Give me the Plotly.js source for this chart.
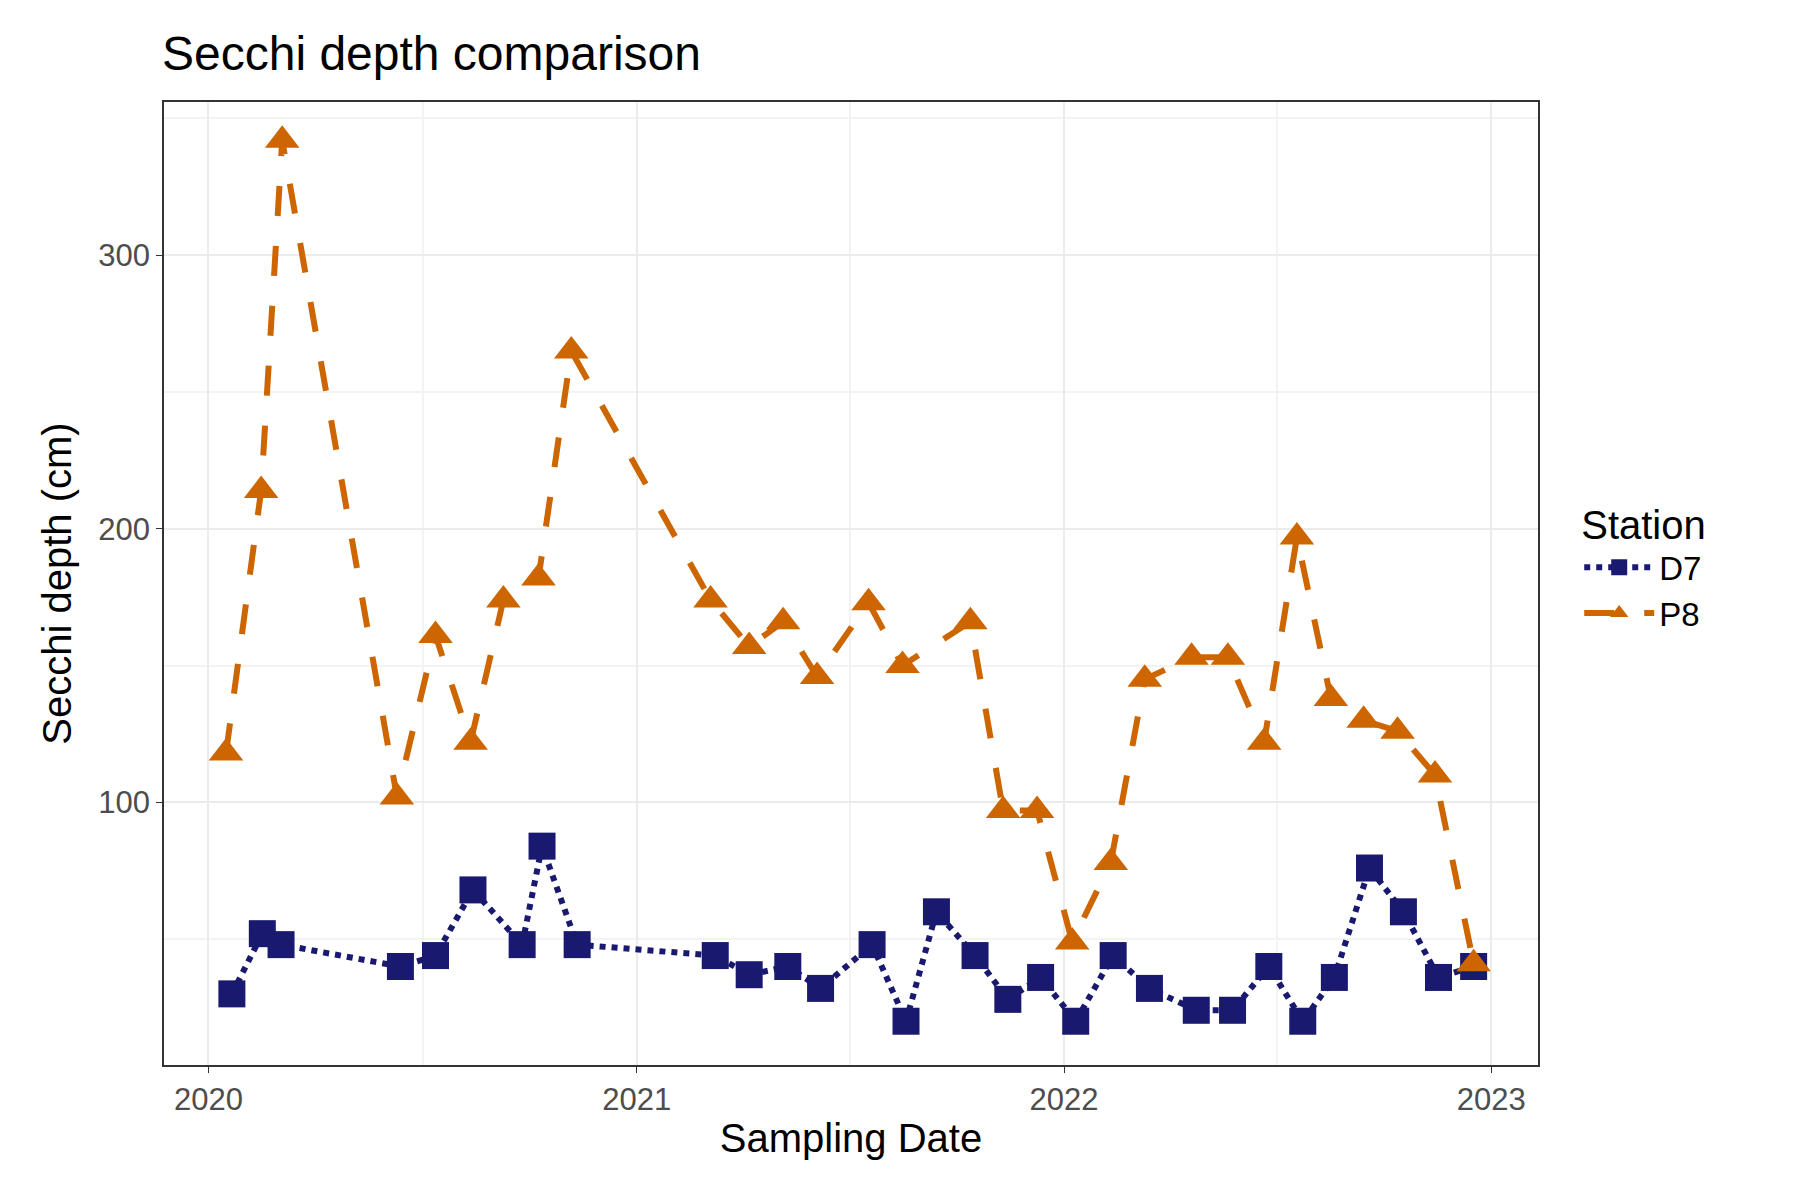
<!DOCTYPE html>
<html>
<head>
<script src="https://cdn.plot.ly/plotly-3.0.1.min.js"></script>
<style>body{margin:0;background:#fff}</style>
</head>
<body>
<div id="plot" style="width:1800px;height:1200px"></div>
<script>
const p8Dates = ['2020-01-16','2020-02-15','2020-03-04','2020-06-10','2020-07-13','2020-08-12','2020-09-09','2020-10-09','2020-11-06',
  '2021-03-05','2021-04-07','2021-05-06','2021-06-04','2021-07-18','2021-08-16','2021-10-13','2021-11-10','2021-12-09',
  '2022-01-08','2022-02-10','2022-03-11','2022-04-20','2022-05-21','2022-06-21','2022-07-19','2022-08-17','2022-09-14','2022-10-13','2022-11-14','2022-12-17'];
const p8Depth = [118, 214, 342, 102, 161, 122, 174, 182, 265,
  174, 157, 166, 146, 173, 150, 166, 97, 97,
  49, 78, 145, 153, 153, 122, 197, 138, 130, 126, 110, 41];

const d7Dates = ['2020-01-21','2020-02-16','2020-03-03','2020-06-13','2020-07-13','2020-08-14','2020-09-25','2020-10-12','2020-11-11',
  '2021-03-09','2021-04-07','2021-05-10','2021-06-07','2021-07-21','2021-08-19','2021-09-14','2021-10-17','2021-11-14','2021-12-12',
  '2022-01-11','2022-02-12','2022-03-15','2022-04-24','2022-05-25','2022-06-25','2022-07-24','2022-08-20','2022-09-19','2022-10-18','2022-11-17','2022-12-17'];
const d7Depth = [30, 52, 48, 40, 44, 68, 48, 84, 48,
  44, 37, 40, 32, 48, 20, 60, 44, 28, 36,
  20, 44, 32, 24, 24, 40, 20, 36, 76, 60, 36, 40];

const data = [
  {x: d7Dates, y: d7Depth, name: 'D7', type: 'scatter', mode: 'lines+markers',
   line: {color: '#191970', width: 6, dash: 'dot'},
   marker: {symbol: 'square', size: 27, color: '#191970'}},
  {x: p8Dates, y: p8Depth, name: 'P8', type: 'scatter', mode: 'lines+markers',
   line: {color: '#CD6600', width: 6, dash: 'longdash'},
   marker: {symbol: 'triangle-up', size: 30, color: '#CD6600'}}
];

const axisCommon = {
  showline: true, mirror: true, linecolor: '#333', linewidth: 1.5,
  gridcolor: '#ebebeb', gridwidth: 2, zeroline: false,
  ticks: 'outside', ticklen: 6, tickcolor: '#333',
  tickfont: {size: 31, color: '#4d4d4d'}
};

const layout = {
  font: {family: 'Liberation Sans, Arial, sans-serif', color: '#000'},
  title: {text: 'Secchi depth comparison', font: {size: 48}, x: 0.09, xanchor: 'left', y: 0.97},
  margin: {l: 164, r: 262, t: 102, b: 135},
  paper_bgcolor: '#fff', plot_bgcolor: '#fff',
  xaxis: Object.assign({}, axisCommon, {
    type: 'date', range: ['2019-11-24', '2023-02-10'],
    tickvals: ['2020-01-01', '2021-01-01', '2022-01-01', '2023-01-01'],
    ticktext: ['2020', '2021', '2022', '2023'],
    minor: {tickvals: ['2020-07-02', '2021-07-02', '2022-07-02'], showgrid: true, gridcolor: '#f3f3f3', gridwidth: 1.5, ticks: ''},
    title: {text: 'Sampling Date', font: {size: 40}, standoff: 8}
  }),
  yaxis: Object.assign({}, axisCommon, {
    range: [4, 356], tickvals: [100, 200, 300],
    minor: {tickvals: [50, 150, 250, 350], showgrid: true, gridcolor: '#f3f3f3', gridwidth: 1.5, ticks: ''},
    title: {text: 'Secchi depth (cm)', font: {size: 40}, standoff: 14}
  }),
  legend: {
    title: {text: 'Station', font: {size: 40}},
    font: {size: 33}, x: 1.03, xanchor: 'left', y: 0.52, yanchor: 'middle',
    itemwidth: 70, tracegroupgap: 22
  },
  showlegend: true
};

Plotly.newPlot('plot', data, layout, {displayModeBar: false});
</script>
</body>
</html>
